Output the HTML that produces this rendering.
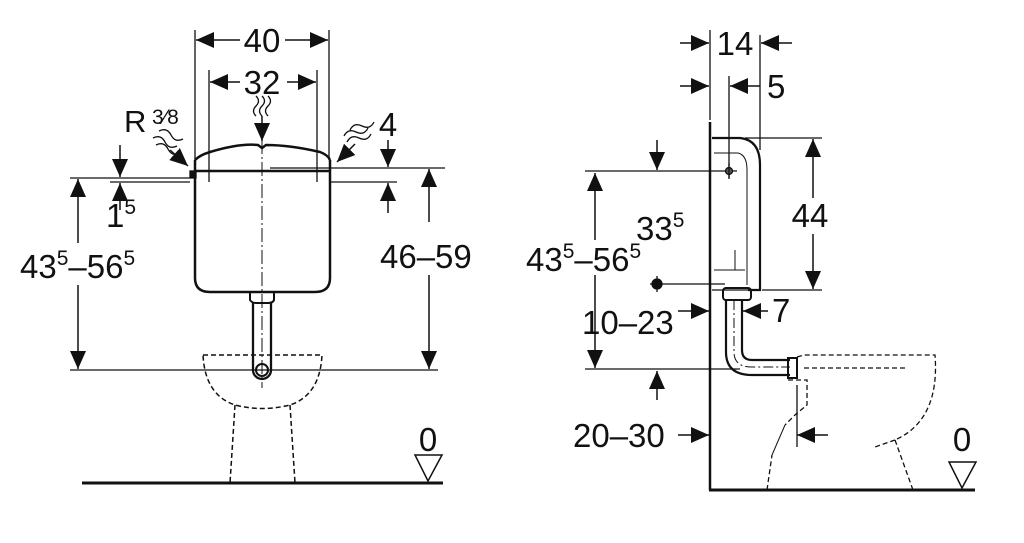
<!DOCTYPE html>
<html><head><meta charset="utf-8"><style>
html,body{margin:0;padding:0;background:#fff;}
svg{display:block;}
text{font-family:"Liberation Sans",Arial,sans-serif;fill:#111;}
</style></head><body>
<svg width="1024" height="543" viewBox="0 0 1024 543" xmlns="http://www.w3.org/2000/svg">
<defs>
<marker id="a" viewBox="0 0 10 10" refX="10" refY="5" markerWidth="18" markerHeight="16" markerUnits="userSpaceOnUse" orient="auto" preserveAspectRatio="none"><path d="M0,0 L10,5 L0,10 z" fill="#111"/></marker>
</defs>
<g stroke="#111" fill="none" stroke-width="1.3">
<!-- LEFT VIEW -->
<line x1="195" y1="30" x2="195" y2="160"/>
<line x1="329" y1="30" x2="329" y2="160"/>
<line x1="240" y1="40" x2="196" y2="40" marker-end="url(#a)" stroke-width="1.5"/>
<line x1="285" y1="40" x2="328" y2="40" marker-end="url(#a)" stroke-width="1.5"/>
<line x1="209" y1="70" x2="209" y2="182"/>
<line x1="317" y1="70" x2="317" y2="182"/>
<line x1="240" y1="82" x2="210" y2="82" marker-end="url(#a)" stroke-width="1.5"/>
<line x1="287" y1="82" x2="316" y2="82" marker-end="url(#a)" stroke-width="1.5"/>
<!-- cistern -->
<path d="M195,160 Q200,155 210,152 Q240,143 258,145 L262,148 L266,145 Q290,145 320,152 Q328,155 330,160" stroke-width="2.5"/>
<path d="M195,160 L195,278 Q195,292 210,292 L315,292 Q330,292 330,278 L330,160" stroke-width="2.5"/>
<line x1="195" y1="171" x2="330" y2="171" stroke-width="2.5"/>
<rect x="190" y="171" width="6" height="7" fill="#111"/>
<path d="M250,292 L250,300 Q252,303 256,303 L268,303 Q273,303 274,300 L274,292" stroke-width="2"/>
<path d="M253,303 L253,370 A9,9 0 0 0 271,370 L271,303" stroke-width="2.3"/>
<circle cx="262" cy="370" r="6" stroke-width="2"/>
<line x1="262" y1="140" x2="262" y2="388" stroke-dasharray="14,3,2,3" stroke-width="1"/>
<line x1="70" y1="178" x2="190" y2="178"/>
<line x1="270" y1="168" x2="445" y2="168"/>
<line x1="330" y1="182" x2="397" y2="182"/>
<line x1="110" y1="182" x2="190" y2="182"/>
<line x1="388" y1="140" x2="388" y2="167" marker-end="url(#a)" stroke-width="1.5"/>
<line x1="388" y1="213" x2="388" y2="183" marker-end="url(#a)" stroke-width="1.5"/>
<line x1="120" y1="145" x2="120" y2="177" marker-end="url(#a)" stroke-width="1.5"/>
<line x1="120" y1="210" x2="120" y2="183" marker-end="url(#a)" stroke-width="1.5"/>
<line x1="78" y1="243" x2="78" y2="179" marker-end="url(#a)" stroke-width="1.5"/>
<line x1="78" y1="285" x2="78" y2="369" marker-end="url(#a)" stroke-width="1.5"/>
<line x1="429" y1="222" x2="429" y2="169" marker-end="url(#a)" stroke-width="1.5"/>
<line x1="429" y1="275" x2="429" y2="369" marker-end="url(#a)" stroke-width="1.5"/>
<line x1="70" y1="370" x2="438" y2="370"/>
<g stroke-dasharray="5,3" stroke-width="1.5">
<path d="M203,355 L322,355 Q320,395 290,405 Q262,412 235,405 Q205,395 203,355"/>
<path d="M235,405 L230,483 M290,405 L295,483 M230,483 L295,483"/>
</g>
<line x1="82" y1="483" x2="443" y2="483" stroke-width="3"/>
<path d="M415,455 L442,455 L428,481 Z" stroke-width="1.5"/>
<!-- wavy arrows -->
<path d="M256,96 q5,5 0,10 q-5,5 0,10 M262,96 q5,5 0,10 q-5,5 0,10 M268,96 q5,5 0,10 q-5,5 0,10" stroke-width="1.3"/>
<line x1="262" y1="116" x2="262" y2="141" marker-end="url(#a)" stroke-width="1.5"/>
<path d="M153,138 q8,-4 12,4 q4,8 12,4 M156,145 q8,-4 12,4 q4,8 12,4 M159,131 q8,-4 12,4 q4,8 12,4" stroke-width="1.3"/>
<line x1="170" y1="150" x2="188" y2="166" marker-end="url(#a)" stroke-width="1.5"/>
<path d="M368,128 q-4,8 -12,4 q-8,-4 -12,4 M371,134 q-4,8 -12,4 q-8,-4 -12,4 M374,122 q-4,8 -12,4 q-8,-4 -12,4" stroke-width="1.3"/>
<line x1="355" y1="144" x2="337" y2="162" marker-end="url(#a)" stroke-width="1.5"/>

<!-- RIGHT VIEW -->
<line x1="710" y1="30" x2="710" y2="120"/>
<line x1="760" y1="35" x2="760" y2="150"/>
<line x1="680" y1="43" x2="709" y2="43" marker-end="url(#a)" stroke-width="1.5"/>
<line x1="792" y1="43" x2="761" y2="43" marker-end="url(#a)" stroke-width="1.5"/>
<line x1="680" y1="86" x2="709" y2="86" marker-end="url(#a)" stroke-width="1.5"/>
<line x1="729" y1="76" x2="729" y2="178"/>
<line x1="760" y1="86" x2="730" y2="86" marker-end="url(#a)" stroke-width="1.5"/>
<line x1="710" y1="122" x2="710" y2="490" stroke-width="2.5"/>
<line x1="709" y1="490" x2="975" y2="490" stroke-width="3"/>
<path d="M712,138 L740,138 Q760,140 760,165 L760,290 L748,290" stroke-width="2.2"/>
<path d="M714,153 L738,153 Q747,155 747,170 L747,285" stroke-width="1"/>
<path d="M714,270 L745,270 M735,250 L735,270" stroke-width="1"/>
<path d="M712,290 L752,290"/>
<line x1="745" y1="138" x2="822" y2="138"/>
<line x1="762" y1="290" x2="822" y2="290"/>
<line x1="813" y1="198" x2="813" y2="139" marker-end="url(#a)" stroke-width="1.5"/>
<line x1="813" y1="234" x2="813" y2="289" marker-end="url(#a)" stroke-width="1.5"/>
<line x1="585" y1="171" x2="737" y2="171"/>
<circle cx="729" cy="171" r="3.5" fill="#555"/>
<line x1="729" y1="163" x2="729" y2="179"/>
<line x1="657" y1="140" x2="657" y2="170" marker-end="url(#a)" stroke-width="1.5"/>
<line x1="595" y1="240" x2="595" y2="173" marker-end="url(#a)" stroke-width="1.5"/>
<line x1="595" y1="275" x2="595" y2="368" marker-end="url(#a)" stroke-width="1.5"/>
<circle cx="657" cy="284" r="5" fill="#111"/>
<line x1="657" y1="276" x2="657" y2="292"/>
<line x1="650" y1="284" x2="725" y2="284"/>
<rect x="723" y="288" width="28" height="12" rx="3" stroke-width="2"/>
<path d="M726,300 L726,352 Q726,375 752,375 L790,375" stroke-width="2.2"/>
<path d="M742,300 L742,350 Q742,360 752,360 L790,360" stroke-width="2.2"/>
<path d="M734,300 L734,352 Q734,367 752,367 L790,367" stroke-dasharray="10,3,2,3" stroke-width="1"/>
<rect x="788" y="358" width="9" height="20" stroke-width="2"/>
<line x1="678" y1="311" x2="709" y2="311" marker-end="url(#a)" stroke-width="1.5"/>
<line x1="768" y1="311" x2="743" y2="311" marker-end="url(#a)" stroke-width="1.5"/>
<line x1="585" y1="369" x2="740" y2="369"/>
<line x1="657" y1="400" x2="657" y2="371" marker-end="url(#a)" stroke-width="1.5"/>
<line x1="678" y1="435" x2="709" y2="435" marker-end="url(#a)" stroke-width="1.5"/>
<line x1="828" y1="435" x2="797" y2="435" marker-end="url(#a)" stroke-width="1.5"/>
<line x1="797" y1="385" x2="797" y2="447"/>
<g stroke-dasharray="5,3" stroke-width="1.3">
<path d="M797,357 L804,355 L935,355 Q940,420 895,440"/>
<path d="M804,368 L905,368"/>
<path d="M788,380 L807,380 L807,405 L795,415 Q790,420 785,425"/>
<path d="M895,440 L913,490 M767,490 L913,490 M767,490 L772,455"/>
<path d="M895,440 L875,447"/>
</g>
<path d="M772,455 L785,425" stroke-width="1"/>
<path d="M949,462 L976,462 L962,488 Z" stroke-width="1.5"/>
</g>
<g font-size="33">
<text x="262" y="52" text-anchor="middle">40</text>
<text x="262" y="94" text-anchor="middle">32</text>
<text x="124" y="132" font-size="31">R</text>
<text x="152" y="124" font-size="21">3⁄8</text>
<text x="388" y="136" text-anchor="middle">4</text>
<text x="106" y="227">1<tspan font-size="21" dy="-13">5</tspan></text>
<text x="20" y="278">43<tspan font-size="21" dy="-13">5</tspan><tspan dy="13">–56</tspan><tspan font-size="21" dy="-13">5</tspan></text>
<text x="380" y="268">46–59</text>
<text x="428" y="451" text-anchor="middle">0</text>
<text x="735" y="55" text-anchor="middle">14</text>
<text x="767" y="98">5</text>
<text x="810" y="227" text-anchor="middle">44</text>
<text x="636" y="240">33<tspan font-size="21" dy="-13">5</tspan></text>
<text x="526" y="271">43<tspan font-size="21" dy="-13">5</tspan><tspan dy="13">–56</tspan><tspan font-size="21" dy="-13">5</tspan></text>
<text x="772" y="322">7</text>
<text x="582" y="334">10–23</text>
<text x="573" y="447">20–30</text>
<text x="962" y="451" text-anchor="middle">0</text>
</g>
</svg>
</body></html>
